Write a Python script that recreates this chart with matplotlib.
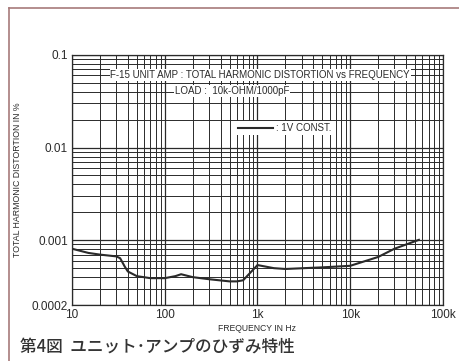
import matplotlib
matplotlib.use("Agg")
import matplotlib.pyplot as plt
from matplotlib.lines import Line2D
from matplotlib.ticker import FixedLocator, LogLocator, NullFormatter

# THD curve
freq_hz = [10, 15, 20, 30, 33, 37, 40, 50, 70, 100, 130, 150, 200, 300, 500,
           600, 700, 1000, 1500, 2000, 5000, 10000, 20000, 30000, 55000]
thd_pct = [0.00081, 0.00073, 0.00070, 0.00067, 0.00064, 0.00052, 0.00046, 0.00041,
           0.00039, 0.00039, 0.00041, 0.00043, 0.00040, 0.00038, 0.00036,
           0.00036, 0.00037, 0.00054, 0.00050, 0.00049, 0.00051, 0.00053,
           0.00066, 0.00081, 0.00101]

x_ticks = [10, 100, 1000, 10000, 100000]
x_labels = ["10", "100", "1k", "10k", "100k"]
y_ticks = [0.0002, 0.001, 0.01, 0.1]
y_labels = ["0.0002", "0.001", "0.01", "0.1"]

ink = "#2a2a2a"
plt.rcParams["font.family"] = ["Liberation Sans", "DejaVu Sans"]

fig = plt.figure(figsize=(4.59, 3.61), dpi=100)
ax = fig.add_axes([0.157, 0.155, 0.808, 0.693])

ax.plot(freq_hz, thd_pct, color=ink, lw=1.5, zorder=3, label=": 1V CONST.")

ax.set_xscale("log")
ax.set_yscale("log")
ax.set_xlim(10, 100000)
ax.set_ylim(0.0002, 0.1)

ax.xaxis.set_major_locator(FixedLocator(x_ticks))
ax.set_xticklabels(x_labels)
ax.xaxis.set_minor_locator(LogLocator(base=10, subs=range(2, 10)))
ax.xaxis.set_minor_formatter(NullFormatter())
ax.yaxis.set_major_locator(FixedLocator(y_ticks))
ax.set_yticklabels(y_labels)
ax.yaxis.set_minor_locator(LogLocator(base=10, subs=range(2, 10)))
ax.yaxis.set_minor_formatter(NullFormatter())

ax.tick_params(which="both", length=0, labelsize=8.5, colors=ink, pad=3)
ax.grid(which="major", color=ink, lw=0.9)
ax.grid(which="minor", color=ink, lw=0.7)
for s in ax.spines.values():
    s.set_color(ink)
    s.set_linewidth(0.9)

ax.set_xlabel("FREQUENCY IN Hz", fontsize=6.2, color=ink, labelpad=2)
ax.set_ylabel("TOTAL HARMONIC DISTORTION IN %", fontsize=6.3, color=ink, labelpad=7)

box = dict(facecolor="white", edgecolor="none", pad=0.5)
ax.text(0.507, 0.92, "F-15 UNIT AMP : TOTAL HARMONIC DISTORTION vs FREQUENCY",
        transform=ax.transAxes, ha="center", va="center", fontsize=7,
        color=ink, bbox=box, zorder=4)
ax.text(0.431, 0.856, "LOAD :  10k-OHM/1000pF", transform=ax.transAxes,
        ha="center", va="center", fontsize=7, color=ink, bbox=box, zorder=4)

leg = ax.legend(loc="center", bbox_to_anchor=(0.574, 0.708), fontsize=7,
                handlelength=3.6, handletextpad=0.3, borderpad=0.2,
                fancybox=False, framealpha=1, edgecolor="none")
for t in leg.get_texts():
    t.set_color(ink)

# brownish page border
fig.add_artist(Line2D([0.02, 1.0], [0.978, 0.978], color="#a77a7a", lw=1.2))
fig.add_artist(Line2D([0.02, 0.02], [0.0, 0.978], color="#a77a7a", lw=1.2))

fig.text(0.044, 0.04, "第4図  ユニット･アンプのひずみ特性", fontsize=12,
         color="#333333", family=["Noto Sans CJK JP", "DejaVu Sans"],
         weight="medium", va="center")

fig.savefig("out.png", dpi=100)
